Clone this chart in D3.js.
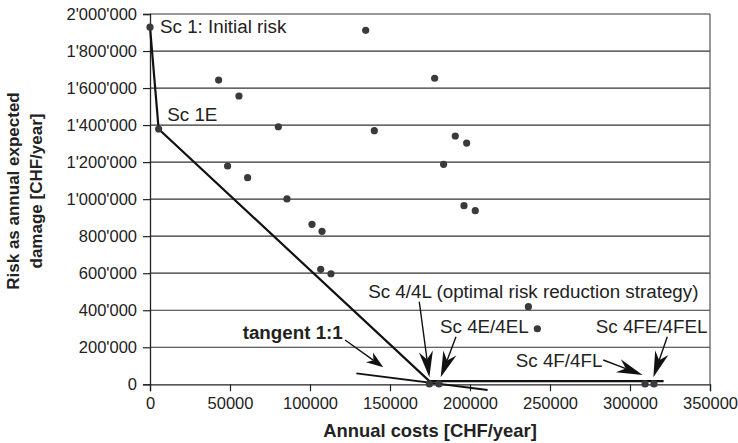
<!DOCTYPE html>
<html>
<head>
    <script src="https://d3js.org/d3.v7.min.js"></script>
    <style>
        body { margin: 0; background: #fff; }
        text { font-family: "Liberation Sans", Arial, Helvetica, sans-serif; fill: #222; }
    </style>
</head>
<body>
    <script>
        // scenario points: annual costs vs. risk
        const costs = [0, 5400, 42900, 55600, 80200, 48500, 61000, 85600, 134800, 101250,
            107500, 106700, 113100, 177900, 140200, 190800, 197900, 183500, 196250, 203300,
            236500, 242100, 174600, 180600, 309400, 315000];
        const risks = [1929000, 1379000, 1643000, 1557000, 1391000, 1179000, 1116000, 1001000, 1912000, 864000,
            826000, 621000, 597000, 1653000, 1370000, 1341000, 1303000, 1188000, 965000, 938000,
            419000, 300000, 2000, 2000, 2000, 2000];

        // efficient frontier and tangent
        const frontierCosts = [0, 5400, 174600, 321000];
        const frontierRisks = [1929000, 1379000, 17000, 17000];
        const tangentCosts = [129000, 211000];
        const tangentRisks = [59000, -31000];

        const xTicks = [0, 50000, 100000, 150000, 200000, 250000, 300000, 350000];
        const yTicks = [0, 200000, 400000, 600000, 800000, 1000000, 1200000, 1400000, 1600000, 1800000, 2000000];

        // text labels (anchored in data units)
        const labels = [
            { text: "Sc 1: Initial risk", x: 6250, y: 1895000, bold: false },
            { text: "Sc 1E", x: 10800, y: 1423000, bold: false },
            { text: "tangent 1:1", x: 57900, y: 244700, bold: true },
            { text: "Sc 4/4L (optimal risk reduction strategy)", x: 136400, y: 466000, bold: false },
            { text: "Sc 4E/4EL", x: 181250, y: 277000, bold: false },
            { text: "Sc 4FE/4FEL", x: 278600, y: 277000, bold: false },
            { text: "Sc 4F/4FL", x: 228600, y: 95000, bold: false }
        ];
        // arrows: from -> tip
        const arrows = [
            { x1: 121900, y1: 239300, x2: 145800, y2: 91800, big: false },
            { x1: 168300, y1: 446000, x2: 174600, y2: 37800, big: true },
            { x1: 191250, y1: 257000, x2: 181700, y2: 37800, big: true },
            { x1: 283300, y1: 131200, x2: 307900, y2: 50200, big: true },
            { x1: 323300, y1: 257000, x2: 314600, y2: 37800, big: true }
        ];

        const width = 738, height = 443;
        const margin = { top: 14, right: 28, bottom: 58.7, left: 150 };

        const svg = d3.select("body").append("svg")
            .attr("width", width)
            .attr("height", height);

        const x = d3.scaleLinear().domain([0, 350000]).range([margin.left, width - margin.right]);
        const y = d3.scaleLinear().domain([0, 2000000]).range([height - margin.bottom, margin.top]);

        const fmtY = d3.formatLocale({ decimal: ".", thousands: "'", grouping: [3], currency: ["", ""] }).format(",");

        // grid lines
        svg.append("g")
            .selectAll("line")
            .data(yTicks.slice(1))
            .join("line")
            .attr("x1", x(0)).attr("x2", x(350000))
            .attr("y1", d => y(d)).attr("y2", d => y(d))
            .attr("stroke", "#333")
            .attr("stroke-width", 1.2);

        // right border
        svg.append("line")
            .attr("x1", x(350000)).attr("x2", x(350000))
            .attr("y1", y(2000000)).attr("y2", y(0))
            .attr("stroke", "#555")
            .attr("stroke-width", 1.2);

        // axes
        const yAxis = svg.append("g")
            .attr("transform", `translate(${x(0)},0)`)
            .call(d3.axisLeft(y).tickValues(yTicks).tickFormat(fmtY).tickSize(7).tickPadding(6));
        const xAxis = svg.append("g")
            .attr("transform", `translate(0,${y(0)})`)
            .call(d3.axisBottom(x).tickValues(xTicks).tickFormat(d3.format("d")).tickSize(7).tickPadding(6));

        [xAxis, yAxis].forEach(a => {
            a.select(".domain").attr("stroke", "#222").attr("stroke-width", 1.3);
            a.selectAll(".tick line").attr("stroke", "#222").attr("stroke-width", 1.2);
            a.selectAll(".tick text")
                .attr("fill", "#222")
                .style("font-size", "16.5px")
                .style("font-family", "'Liberation Sans', Arial, sans-serif");
        });

        // axis titles
        svg.append("text")
            .attr("x", (x(0) + x(350000)) / 2)
            .attr("y", 437)
            .attr("text-anchor", "middle")
            .style("font-size", "18.4px")
            .style("font-weight", "bold")
            .text("Annual costs [CHF/year]");

        const yt = svg.append("text")
            .attr("transform", "translate(0,191) rotate(-90)")
            .attr("text-anchor", "middle")
            .style("font-size", "17px")
            .style("font-weight", "bold");
        yt.append("tspan").attr("x", 0).attr("y", 18.5).text("Risk as annual expected");
        yt.append("tspan").attr("x", 0).attr("y", 41.5).text("damage [CHF/year]");

        // frontier line
        const line = d3.line().x(d => x(d[0])).y(d => y(d[1]));
        svg.append("path")
            .attr("d", line(d3.zip(frontierCosts, frontierRisks)))
            .attr("fill", "none")
            .attr("stroke", "#111")
            .attr("stroke-width", 2.2);

        svg.append("path")
            .attr("d", line(d3.zip(tangentCosts, tangentRisks)))
            .attr("fill", "none")
            .attr("stroke", "#111")
            .attr("stroke-width", 2);

        // scenario points
        svg.append("g")
            .selectAll("circle")
            .data(d3.zip(costs, risks))
            .join("circle")
            .attr("cx", d => x(d[0]))
            .attr("cy", d => y(d[1]))
            .attr("r", 3.6)
            .attr("fill", "#3a3a3a");

        // arrows with stealth heads
        arrows.forEach(a => {
            const x1 = x(a.x1), y1 = y(a.y1), x2 = x(a.x2), y2 = y(a.y2);
            const ang = Math.atan2(y2 - y1, x2 - x1);
            const len = a.big ? 26 : 17, half = a.big ? 7 : 6, notch = a.big ? 8 : 5;
            const ux = Math.cos(ang), uy = Math.sin(ang);
            const px = -uy, py = ux;
            const bx = x2 - ux * len, by = y2 - uy * len;
            const nx = x2 - ux * (len - notch), ny = y2 - uy * (len - notch);
            svg.append("line")
                .attr("x1", x1).attr("y1", y1)
                .attr("x2", nx).attr("y2", ny)
                .attr("stroke", "#111")
                .attr("stroke-width", 1.4);
            svg.append("path")
                .attr("d", `M${x2},${y2}L${bx + px * half},${by + py * half}L${nx},${ny}L${bx - px * half},${by - py * half}Z`)
                .attr("fill", "#111");
        });

        // labels
        svg.append("g")
            .selectAll("text")
            .data(labels)
            .join("text")
            .attr("x", d => x(d.x))
            .attr("y", d => y(d.y))
            .style("font-size", "18.8px")
            .style("font-weight", d => d.bold ? "bold" : "normal")
            .text(d => d.text);
    </script>
</body>
</html>
